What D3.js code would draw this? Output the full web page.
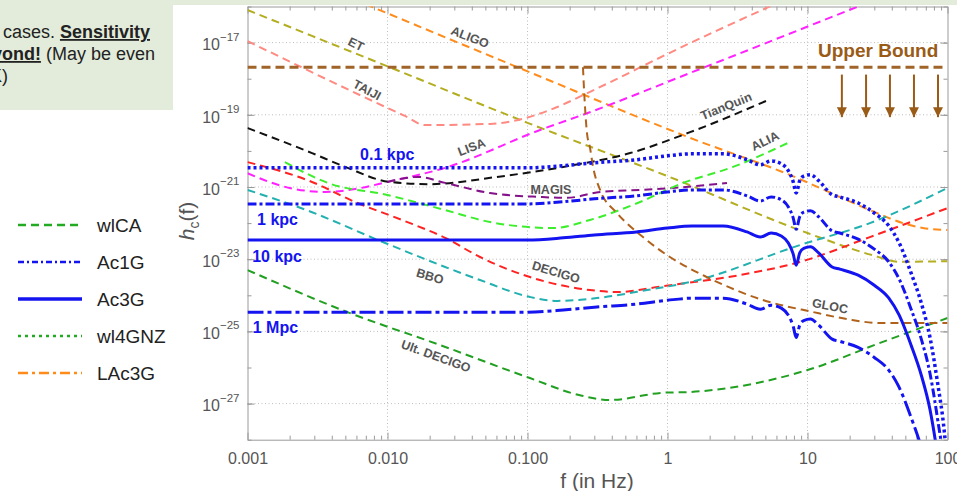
<!DOCTYPE html>
<html><head><meta charset="utf-8">
<script src="https://cdn.jsdelivr.net/npm/d3@7"></script>
<style>
body{margin:0;background:#fff;}
svg{display:block;font-family:"Liberation Sans",Arial,Helvetica,sans-serif;}
</style></head><body>
<svg id="chart" width="957" height="491"></svg>
<script>
// ---------- data ----------
const etF = [0.001, 0.01, 0.1, 1, 10, 30, 45, 100];
const etH = [8e-17, 2.2e-18, 6e-20, 2e-21, 5.3e-23, 1.25e-23, 8.5e-24, 8.8e-24];
const taijiF = [0.001, 0.0133, 0.0185, 0.054, 0.163, 0.249, 1.45, 5.67];
const taijiH = [1.1e-17, 9.3e-20, 5.2e-20, 5.6e-20, 1.64e-19, 3.5e-19, 9.7e-18, 1.1e-16];
const aligoF = [0.007, 0.1, 1.45, 7.5, 27.9, 48, 66.8, 100];
const aligoH = [1.15e-16, 1.6e-18, 2.3e-20, 2.15e-21, 2.3e-22, 1.0e-22, 7.3e-23, 6.4e-23];
const upperF = [0.001, 100];
const upperH = [2.07e-18, 2.07e-18];
const glocF = [0.249, 0.2535, 0.266, 0.279, 0.294, 0.33, 0.436, 0.668, 1.04, 1.91, 4.8, 10.9, 19.1, 33, 100];
const glocH = [2.07e-18, 4.9e-19, 3.1e-20, 1.28e-20, 3.6e-21, 8.3e-22, 1.9e-22, 4.1e-23, 1.15e-23, 3.2e-24, 7.4e-25, 3.45e-25, 2.2e-25, 1.7e-25, 1.7e-25];
const lisaF = [0.001, 0.002, 0.0036, 0.00586, 0.01, 0.0258, 0.123, 0.266, 1.45, 26.6];
const lisaH = [2.4e-21, 9.4e-22, 7.3e-22, 8.8e-22, 1.38e-21, 3.4e-21, 3.8e-20, 1.1e-19, 1.44e-18, 1.25e-16];
const tianF = [0.001, 0.00289, 0.005, 0.0104, 0.0201, 0.0605, 0.18, 0.54, 1.45, 5.4];
const tianH = [4.3e-20, 8.7e-21, 3.6e-21, 1.38e-21, 1.2e-21, 1.9e-21, 3.6e-21, 8.7e-21, 3.3e-20, 2.7e-19];
const magisF = [0.01, 0.0165, 0.0258, 0.054, 0.123, 0.191, 0.33, 0.637, 1.09, 2.66];
const magisH = [1.38e-21, 1.9e-21, 1.3e-21, 6.8e-22, 5.3e-22, 5.0e-22, 7.3e-22, 8.3e-22, 9.4e-22, 1.29e-21];
const aliaF = [0.00185, 0.00376, 0.01, 0.0258, 0.054, 0.152, 0.279, 0.637, 1.29, 2.94, 7.5];
const aliaH = [4.9e-21, 1.29e-21, 6e-22, 2.3e-22, 1.07e-22, 7.3e-23, 1.22e-22, 3.85e-22, 1.29e-21, 3.6e-21, 1.77e-20];
const decigoF = [0.001, 0.00289, 0.00586, 0.0127, 0.0258, 0.0458, 0.104, 0.279, 0.436, 0.93, 3.3, 8.84, 27.9, 100];
const decigoH = [4.9e-21, 1.38e-21, 3.85e-22, 1.22e-22, 3.9e-23, 1.15e-23, 3.2e-24, 1.4e-24, 1.23e-24, 1.8e-24, 3.65e-24, 8.4e-24, 4.1e-23, 2.6e-22];
const bboF = [0.001, 0.00289, 0.00855, 0.0258, 0.0458, 0.104, 0.163, 0.313, 0.715, 1.45, 8.84, 27.9, 100];
const bboH = [8.3e-22, 2e-22, 3.4e-23, 6.1e-24, 2.65e-24, 9e-25, 7e-25, 8.4e-25, 1.4e-24, 2.33e-24, 2.47e-23, 1e-22, 9.4e-22];
const ultF = [0.001, 0.00514, 0.0237, 0.104, 0.237, 0.388, 0.93, 1.45, 10, 33, 100];
const ultH = [5e-24, 3.45e-25, 4.2e-26, 5.1e-27, 1.7e-27, 1.26e-27, 2e-27, 2.1e-27, 8.5e-27, 4.8e-26, 2.35e-25];

// source signals at several distances
const srcF = [0.001, 0.1, 0.18, 0.3, 0.6, 1, 1.5, 2.5, 3.7, 4.6, 5.5, 6.5, 7.3, 7.9, 8.3, 8.8, 9.4, 10.5, 12, 15, 17, 23, 30, 38, 45, 55, 65, 75, 85, 95, 100];
const kpc01H = [3.4e-21, 3.4e-21, 3.9e-21, 4.7e-21, 5.7e-21, 7.3e-21, 8.3e-21, 8.3e-21, 5.7e-21, 4.1e-21, 5.3e-21, 4.4e-21, 2.8e-21, 1.4e-21, 6.8e-22, 1.5e-21, 2.0e-21, 2.2e-21, 1.5e-21, 6.1e-22, 5.3e-22, 3.6e-22, 1.9e-22, 8.5e-23, 2.9e-23, 4.1e-24, 6.1e-25, 6.8e-26, 3.7e-27, 1.6e-28, 1.7e-29];
const kpc1H = [3.4e-22, 3.4e-22, 3.9e-22, 4.7e-22, 5.7e-22, 7.3e-22, 8.3e-22, 8.3e-22, 5.7e-22, 4.1e-22, 5.3e-22, 4.4e-22, 2.8e-22, 1.4e-22, 6.8e-23, 1.5e-22, 2.0e-22, 2.2e-22, 1.5e-22, 6.1e-23, 5.3e-23, 3.6e-23, 1.9e-23, 8.5e-24, 2.9e-24, 4.1e-25, 6.1e-26, 6.8e-27, 3.7e-28, 1.6e-29, 1.7e-30];
const kpc10H = [3.4e-23, 3.4e-23, 3.9e-23, 4.7e-23, 5.7e-23, 7.3e-23, 8.3e-23, 8.3e-23, 5.7e-23, 4.1e-23, 5.3e-23, 4.4e-23, 2.8e-23, 1.4e-23, 6.8e-24, 1.5e-23, 2.0e-23, 2.2e-23, 1.5e-23, 6.1e-24, 5.3e-24, 3.6e-24, 1.9e-24, 8.5e-25, 2.9e-25, 4.1e-26, 6.1e-27, 6.8e-28, 3.7e-29, 1.6e-30, 1.7e-31];
const mpc1H = [3.4e-25, 3.4e-25, 3.9e-25, 4.7e-25, 5.7e-25, 7.3e-25, 8.3e-25, 8.3e-25, 5.7e-25, 4.1e-25, 5.3e-25, 4.4e-25, 2.8e-25, 1.4e-25, 6.8e-26, 1.5e-25, 2.0e-25, 2.2e-25, 1.5e-25, 6.1e-26, 5.3e-26, 3.6e-26, 1.9e-26, 8.5e-27, 2.9e-27, 4.1e-28, 6.1e-29, 6.8e-30, 3.7e-31, 1.6e-32, 1.7e-33];

const xTickValues = [0.001, 0.01, 0.1, 1, 10, 100];
const xTickLabels = ["0.001", "0.010", "0.100", "1", "10", "100"];
const yTickExps = [-17, -19, -21, -23, -25, -27];

const legendNames = ["wlCA", "Ac1G", "Ac3G", "wl4GNZ", "LAc3G"];

const detectorLabels = ["ET", "TAIJI", "ALIGO", "LISA", "TianQuin", "ALIA", "MAGIS", "DECIGO", "BBO", "Ult. DECIGO", "GLOC"];
const detectorLabelF = [0.00596, 0.00715, 0.0388, 0.0398, 2.62, 4.97, 0.147, 0.16, 0.0201, 0.0222, 14.5];
const detectorLabelH = [9.1e-18, 4.9e-19, 1.43e-17, 1.28e-20, 1.75e-19, 1.88e-20, 8.3e-22, 4.4e-24, 3.4e-24, 2.08e-26, 5.1e-25];
const detectorLabelAngle = [26, 28, 21, -21, -22, -26, 0, 17, 17, 20, 11];

const distLabels = ["0.1 kpc", "1 kpc", "10 kpc", "1 Mpc"];
const distLabelF = [0.00637, 0.00117, 0.00108, 0.00109];
const distLabelH = [5.6e-21, 8.9e-23, 8.4e-24, 9e-26];

const arrowF = [17.6, 26.2, 38.8, 57.6, 85.5];

// ---------- drawing ----------
const svg = d3.select("#chart");
const L = 247.5, R = 947.5, T = 6.5, B = 439.7;
const x = d3.scaleLog().domain([0.001, 100]).range([L, R]);
const y = d3.scaleLog().domain([1e-28, 1e-16]).range([B, T]);

// backgrounds
const bg = "#e3ecda";
svg.append("rect").attr("x", 0).attr("y", 0).attr("width", 957).attr("height", 5).attr("fill", bg);
svg.append("rect").attr("x", 0).attr("y", 0).attr("width", 173).attr("height", 110).attr("fill", bg);

// top-left note
const note = svg.append("g").attr("font-size", 18).attr("fill", "#222");
const n1 = note.append("text").attr("x", 150).attr("y", 38).attr("text-anchor", "end");
n1.append("tspan").text("in all cases. ");
n1.append("tspan").attr("font-weight", "bold").attr("text-decoration", "underline").text("Sensitivity");
const n2 = note.append("text").attr("x", 155).attr("y", 60).attr("text-anchor", "end");
n2.append("tspan").attr("font-weight", "bold").attr("text-decoration", "underline").text("beyond!");
n2.append("tspan").text(" (May be even");
note.append("text").attr("x", 8).attr("y", 82).attr("text-anchor", "end").text("1K)");

// clip
svg.append("clipPath").attr("id", "plotclip").append("rect")
  .attr("x", L).attr("y", T).attr("width", R - L).attr("height", B - T);

// grid
const grid = svg.append("g").attr("stroke", "#bdbdbd").attr("stroke-width", 1).attr("stroke-dasharray", "1,2.5");
[0.01, 0.1, 1, 10].forEach(v => grid.append("line").attr("x1", x(v)).attr("x2", x(v)).attr("y1", T).attr("y2", B));
yTickExps.forEach(e => grid.append("line").attr("x1", L).attr("x2", R).attr("y1", y(Math.pow(10, e))).attr("y2", y(Math.pow(10, e))));

// axes
const minorX = [];
for (let d = -3; d < 2; d++) for (let k = 2; k <= 9; k++) minorX.push(k * Math.pow(10, d));
const decY = d3.range(-28, -15).map(e => Math.pow(10, e));
const axisColor = "#9a9a9a";
function styleAxis(g) { g.select(".domain").attr("stroke", axisColor); g.selectAll(".tick line").attr("stroke", axisColor); }

const xb = svg.append("g").attr("transform", `translate(0,${B})`)
  .call(d3.axisBottom(x).tickValues(xTickValues).tickSizeInner(-7).tickSizeOuter(0).tickPadding(13)
    .tickFormat((d, i) => xTickLabels[i]));
styleAxis(xb);
xb.selectAll("text").attr("fill", "#555").attr("font-size", 16).attr("font-family", "Liberation Sans, Arial, sans-serif");
svg.append("g").attr("transform", `translate(0,${B})`)
  .call(d3.axisBottom(x).tickValues(minorX).tickSizeInner(-4).tickSizeOuter(0).tickFormat(""))
  .call(styleAxis).select(".domain").remove();
svg.append("g").attr("transform", `translate(0,${T})`)
  .call(d3.axisTop(x).tickValues(xTickValues).tickSizeInner(-7).tickSizeOuter(0).tickFormat(""))
  .call(styleAxis);
svg.append("g").attr("transform", `translate(0,${T})`)
  .call(d3.axisTop(x).tickValues(minorX).tickSizeInner(-4).tickSizeOuter(0).tickFormat(""))
  .call(styleAxis).select(".domain").remove();

const yl = svg.append("g").attr("transform", `translate(${L},0)`)
  .call(d3.axisLeft(y).tickValues(yTickExps.map(e => Math.pow(10, e))).tickSizeInner(-7).tickSizeOuter(0).tickPadding(8)
    .tickFormat(""));
styleAxis(yl);
yl.selectAll(".tick").each(function (d) {
  const e = Math.round(Math.log10(d));
  const t = d3.select(this).select("text").attr("fill", "#555").attr("font-size", 16)
    .attr("font-family", "Liberation Sans, Arial, sans-serif").attr("dy", "0.45em");
  t.append("tspan").text("10");
  t.append("tspan").attr("font-size", 11.5).attr("dy", "-0.85em").text("\u2212" + Math.abs(e));
});
svg.append("g").attr("transform", `translate(${L},0)`)
  .call(d3.axisLeft(y).tickValues(decY).tickSizeInner(-4).tickSizeOuter(0).tickFormat(""))
  .call(styleAxis).select(".domain").remove();
svg.append("g").attr("transform", `translate(${R},0)`)
  .call(d3.axisRight(y).tickValues(yTickExps.map(e => Math.pow(10, e))).tickSizeInner(-7).tickSizeOuter(0).tickFormat(""))
  .call(styleAxis);
svg.append("g").attr("transform", `translate(${R},0)`)
  .call(d3.axisRight(y).tickValues(decY).tickSizeInner(-4).tickSizeOuter(0).tickFormat(""))
  .call(styleAxis).select(".domain").remove();

// axis titles
const yt = svg.append("text").attr("transform", "translate(194,221) rotate(-90)").attr("text-anchor", "middle")
  .attr("font-size", 21).attr("fill", "#555");
yt.append("tspan").attr("font-style", "italic").text("h");
yt.append("tspan").attr("font-size", 14).attr("dy", 5).text("c");
yt.append("tspan").attr("dy", -5).text("(f)");
svg.append("text").attr("x", 597).attr("y", 488).attr("text-anchor", "middle").attr("font-size", 21)
  .attr("fill", "#555").text("f (in Hz)");

// curves
const line = d3.line().x(d => x(d[0])).y(d => y(d[1])).curve(d3.curveMonotoneX);
const plot = svg.append("g").attr("clip-path", "url(#plotclip)");
const zip = (f, h) => f.map((v, i) => [v, h[i]]);
const guides = [
  [etF, etH, "#b3ad1f"], [taijiF, taijiH, "#ff8a82"], [aligoF, aligoH, "#ff8c1a"],
  [lisaF, lisaH, "#ff22ff"], [tianF, tianH, "#111111"], [magisF, magisH, "#84128a"],
  [aliaF, aliaH, "#3cee2c"], [decigoF, decigoH, "#ff2222"], [bboF, bboH, "#22b0b0"],
  [ultF, ultH, "#22a022"], [glocF, glocH, "#b0621c"]
];
guides.forEach(([f, h, c]) => plot.append("path").attr("d", line(zip(f, h))).attr("fill", "none")
  .attr("stroke", c).attr("stroke-width", 2).attr("stroke-dasharray", "8,5"));

const blue = "#1414f0";
const sources = [
  [kpc01H, "3,3", 3.5], [kpc1H, "9,3,3,3", 3], [kpc10H, null, 3], [mpc1H, "16,4,4,4", 3]
];
sources.forEach(([h, dash, w]) => plot.append("path").attr("d", line(zip(srcF, h))).attr("fill", "none")
  .attr("stroke", blue).attr("stroke-width", w).attr("stroke-dasharray", dash));

// upper bound
plot.append("path").attr("d", line(zip(upperF, upperH))).attr("fill", "none")
  .attr("stroke", "#a06428").attr("stroke-width", 3).attr("stroke-dasharray", "9,5");
svg.append("defs").append("marker").attr("id", "ah").attr("viewBox", "0 0 10 10").attr("refX", 10).attr("refY", 5)
  .attr("markerWidth", 5).attr("markerHeight", 5).attr("orient", "auto")
  .append("path").attr("d", "M0,0L10,5L0,10z").attr("fill", "#9a5b17");
arrowF.forEach(f => svg.append("line").attr("x1", x(f)).attr("x2", x(f)).attr("y1", y(1.3e-18)).attr("y2", y(8.6e-20))
  .attr("stroke", "#9a5b17").attr("stroke-width", 2).attr("marker-end", "url(#ah)"));
svg.append("text").attr("x", 818).attr("y", 57).attr("font-size", 19).attr("font-weight", "bold")
  .attr("fill", "#9a5b17").text("Upper Bound");

// detector labels
detectorLabels.forEach((t, i) => svg.append("text")
  .attr("transform", `translate(${x(detectorLabelF[i])},${y(detectorLabelH[i])}) rotate(${detectorLabelAngle[i]})`)
  .attr("text-anchor", "middle").attr("dy", "0.35em").attr("font-size", 12.5).attr("font-weight", "bold")
  .attr("fill", "#555").text(t));

// distance labels
distLabels.forEach((t, i) => svg.append("text").attr("x", x(distLabelF[i])).attr("y", y(distLabelH[i]))
  .attr("font-size", 16).attr("font-weight", "bold").attr("fill", blue).text(t));

// legend
const legendStyles = [
  {c: "#22aa22", dash: "8,5", w: 2.5}, {c: blue, dash: "6,3,2,3", w: 2.5}, {c: blue, dash: null, w: 3.5},
  {c: "#22aa22", dash: "3,4", w: 2.5}, {c: "#ff8c1a", dash: "10,4,3,4", w: 2.5}
];
const lg = svg.append("g");
legendNames.forEach((n, i) => {
  const yy = 225 + i * 37;
  lg.append("line").attr("x1", 18).attr("x2", 82).attr("y1", yy).attr("y2", yy)
    .attr("stroke", legendStyles[i].c).attr("stroke-width", legendStyles[i].w).attr("stroke-dasharray", legendStyles[i].dash);
  lg.append("text").attr("x", 97).attr("y", yy).attr("dy", "0.36em").attr("font-size", 19).attr("fill", "#222").text(n);
});
</script></body></html>
